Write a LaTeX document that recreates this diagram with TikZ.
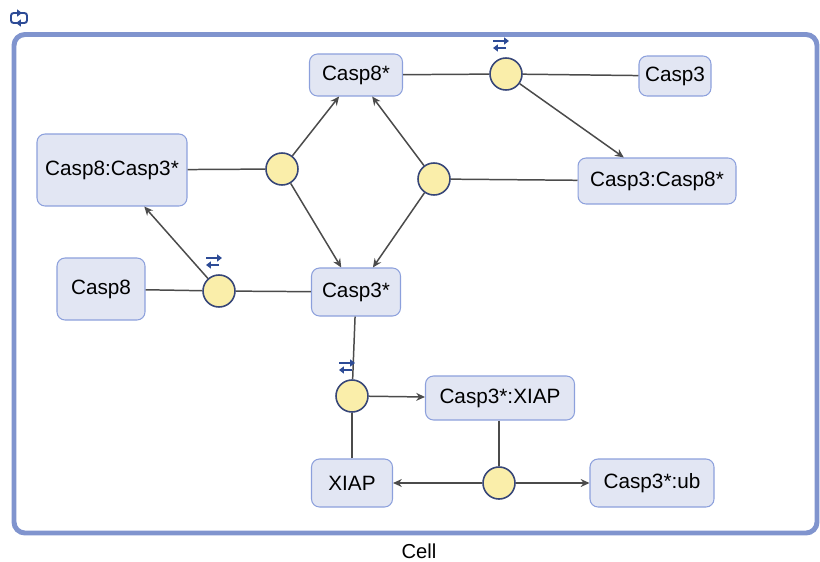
\documentclass[tikz,border=0pt]{standalone}
\usepackage{fontspec}
\setmainfont{Liberation Sans}
\usetikzlibrary{arrows.meta}
\definecolor{speciescolor}{RGB}{226, 230, 243}
\definecolor{speciesborder}{RGB}{140, 160, 220}
\definecolor{processcolor}{RGB}{250, 238, 170}
\definecolor{processborder}{RGB}{55, 70, 120}
\definecolor{cellborder}{RGB}{128, 148, 206}
\definecolor{edgecolor}{RGB}{75, 75, 75}
\definecolor{iconcolor}{RGB}{45, 75, 150}

% reversible mark above a process
\newcommand{\revmark}[1]{%
  \draw[revarrow] ([shift={(-13,-33)}]#1.center) -- ([shift={(3,-33)}]#1.center);
  \draw[revarrow] ([shift={(0,-26)}]#1.center) -- ([shift={(-13,-26)}]#1.center);
}

\begin{document}
\begin{tikzpicture}[x=0.02cm, y=-0.02cm,
    species/.style={draw=speciesborder, fill=speciescolor, line width=0.6pt, rounded corners=0.16cm, font=\fontsize{11.8}{14}\selectfont},
    process/.style={circle, draw=processborder, fill=processcolor, line width=0.9pt, minimum size=0.64cm, inner sep=0pt},
    link/.style={draw=edgecolor, line width=0.85pt},
    prod/.style={link, -{Stealth[length=5pt, width=4.5pt]}},
    revarrow/.style={draw=iconcolor, line width=1.1pt, -{Triangle[length=2.8pt, width=4pt]}},
]
    \useasboundingbox (0,0) rectangle (820,561);

    % Compartment
    \draw[cellborder, line width=2.8pt, rounded corners=0.22cm] (14,34.5) rectangle (817,533);
    \node[font=\fontsize{11.5}{13}\selectfont] (celllabel) at (419,551) {Cell};
    \draw[revarrow, rounded corners=1.5pt] (17,23) -- (11,23) -- (11,13) -- (22,13);
    \draw[revarrow, rounded corners=1.5pt] (21,13) -- (27,13) -- (27,23) -- (16,23);

    % Species
    \node[species, minimum width=1.86cm, minimum height=0.84cm] (casp8a) at (356,75) {Casp8*};
    \node[species, minimum width=1.44cm, minimum height=0.80cm] (casp3) at (675,76) {Casp3};
    \node[species, minimum width=3.00cm, minimum height=1.44cm] (c8c3a) at (112,170) {Casp8:Casp3*};
    \node[species, minimum width=3.16cm, minimum height=0.92cm] (c3c8a) at (657,181) {Casp3:Casp8*};
    \node[species, minimum width=1.76cm, minimum height=1.24cm] (casp8) at (101,289) {Casp8};
    \node[species, minimum width=1.78cm, minimum height=0.96cm] (casp3a) at (356,292) {Casp3*};
    \node[species, minimum width=2.98cm, minimum height=0.88cm] (c3axiap) at (500,398) {Casp3*:XIAP};
    \node[species, minimum width=1.62cm, minimum height=0.96cm] (xiap) at (352,483) {XIAP};
    \node[species, minimum width=2.48cm, minimum height=0.96cm] (c3aub) at (652,483) {Casp3*:ub};

    % Processes
    \node[process] (cleave) at (506,74) {};
    \node[process] (split83) at (282,169) {};
    \node[process] (split38) at (434,179) {};
    \node[process] (bind83) at (219,291) {};
    \node[process] (bindxiap) at (352,396) {};
    \node[process] (ubiq) at (499,483) {};

    % Connections
    \draw[link] (casp8a) -- (cleave);
    \draw[link] (cleave) -- (casp3);
    \draw[prod] (cleave) -- (c3c8a);
    \draw[link] (c8c3a) -- (split83);
    \draw[prod] (split83) -- (casp8a);
    \draw[prod] (split83) -- (casp3a);
    \draw[link] (c3c8a) -- (split38);
    \draw[prod] (split38) -- (casp8a);
    \draw[prod] (split38) -- (casp3a);
    \draw[link] (casp8) -- (bind83);
    \draw[link] (bind83) -- (casp3a);
    \draw[prod] (bind83) -- (c8c3a);
    \draw[link] (casp3a) -- (bindxiap);
    \draw[link] (xiap) -- (bindxiap);
    \draw[prod] (bindxiap) -- (c3axiap);
    \draw[link] (c3axiap.south -| ubiq) -- (ubiq);
    \draw[prod] (ubiq) -- (xiap);
    \draw[prod] (ubiq) -- (c3aub);

    % Reversible marks
    \revmark{cleave}
    \revmark{bind83}
    \revmark{bindxiap}

\end{tikzpicture}
\end{document}
